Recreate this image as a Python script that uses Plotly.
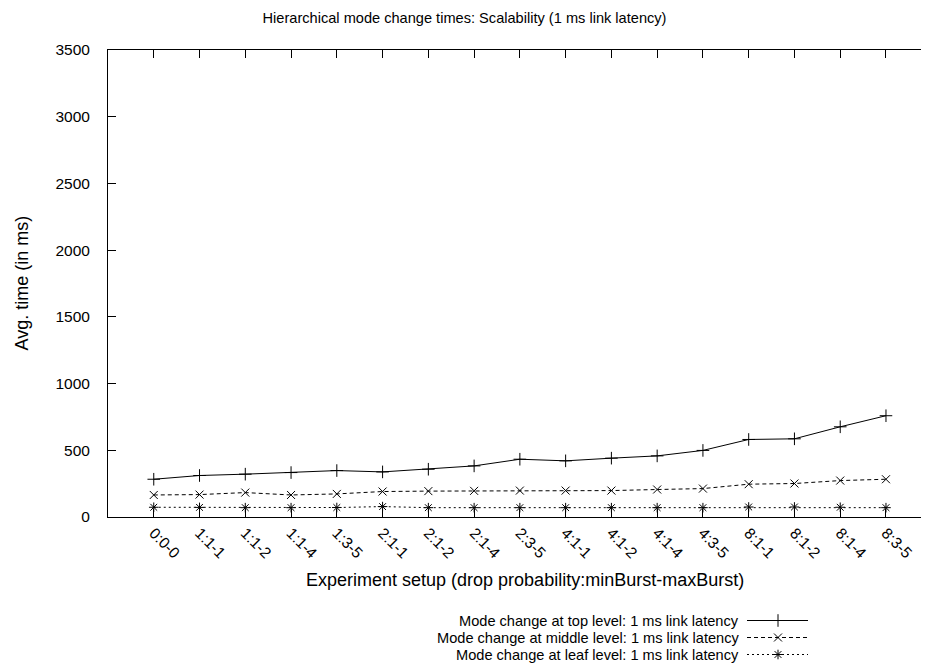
import plotly.graph_objects as go

categories = ["0:0-0", "1:1-1", "1:1-2", "1:1-4", "1:3-5", "2:1-1", "2:1-2", "2:1-4",
              "2:3-5", "4:1-1", "4:1-2", "4:1-4", "4:3-5", "8:1-1", "8:1-2", "8:1-4", "8:3-5"]
top_level = [283, 311, 321, 333, 348, 338, 358, 383, 433, 421, 441, 458, 499, 581, 586, 676, 759]
middle_level = [165, 168, 183, 165, 173, 191, 194, 196, 198, 198, 198, 206, 213, 246, 251, 273, 283]
leaf_level = [73, 72, 70, 70, 71, 78, 70, 70, 70, 70, 70, 70, 70, 75, 75, 73, 70]
series_names = ["Mode change at top level: 1 ms link latency",
                "Mode change at middle level: 1 ms link latency",
                "Mode change at leaf level: 1 ms link latency"]
y_ticks = [0, 500, 1000, 1500, 2000, 2500, 3000, 3500]

# page body has an 8px margin; the figure is sized to fill the rest of the window
O = 8
W, H = 929 - O, 667 - O
L, T, R, B = 108 - O, 50 - O, 0, 0
plot_bottom = 517 - O
paper_h = H - T - B
paper_w = W - L - R
main_lo = (H - B - plot_bottom) / paper_h

FONT = "Liberation Sans, Arial, Helvetica, sans-serif"
FS = 14.6       # title and legend
FS_TICK = 15.5  # tick labels
FS_AXT = 18     # axis titles
styles = [
    dict(dash="solid", symbol="cross-thin", size=9),
    dict(dash="4px,3px", symbol="x-thin", size=8),
    dict(dash="2px,3px", symbol="asterisk-open", size=8),
]
series = [top_level, middle_level, leaf_level]

fig = go.Figure()
xidx = list(range(len(categories)))
for vals, st, name in zip(series, styles, series_names):
    fig.add_trace(go.Scatter(
        x=xidx, y=vals, mode="lines+markers", name=name,
        line=dict(color="black", width=1, dash=st["dash"]),
        marker=dict(symbol=st["symbol"], size=st["size"], color="black",
                    line=dict(color="black", width=1)),
        showlegend=False, cliponaxis=False,
    ))

# legend samples drawn in a pixel-unit overlay axis below the plot
leg_rows = [620.5 - O, 637.5 - O, 654.5 - O]
for st, yy in zip(styles, leg_rows):
    fig.add_trace(go.Scatter(
        x=[747 - O, 808 - O], y=[yy, yy], mode="lines", xaxis="x2", yaxis="y2",
        line=dict(color="black", width=1, dash=st["dash"]), showlegend=False,
        hoverinfo="skip"))
    fig.add_trace(go.Scatter(
        x=[778 - O], y=[yy], mode="markers", xaxis="x2", yaxis="y2",
        marker=dict(symbol=st["symbol"], size=st["size"], color="black",
                    line=dict(color="black", width=1)),
        showlegend=False, hoverinfo="skip", cliponaxis=False))

annotations = []
for name, yy in zip(series_names, leg_rows):
    annotations.append(dict(text=name, x=741 - O, y=yy, xref="x2", yref="y2",
                            xanchor="right", yanchor="middle", showarrow=False,
                            font=dict(family=FONT, size=FS, color="black")))

annotations.append(dict(text="Avg. time (in ms)", x=(21 - O - L) / paper_w,
                        y=(H - B - (283.5 - O)) / paper_h, xref="paper", yref="paper",
                        textangle=-90, xanchor="center", yanchor="middle",
                        showarrow=False, font=dict(family=FONT, size=FS_AXT, color="black")))
annotations.append(dict(text="Experiment setup (drop probability:minBurst-maxBurst)",
                        x=(525 - O - L) / paper_w, y=(H - B - (580 - O)) / paper_h,
                        xref="paper", yref="paper", xanchor="center", yanchor="middle",
                        showarrow=False, font=dict(family=FONT, size=FS_AXT, color="black")))

fig.update_layout(
    width=W, height=H,
    margin=dict(l=L, r=R, t=T, b=B, pad=0),
    paper_bgcolor="white", plot_bgcolor="white",
    font=dict(family=FONT, size=FS, color="black"),
    title=dict(text="Hierarchical mode change times: Scalability (1 ms link latency)",
               x=(464.5 - O) / W, xref="container", xanchor="center",
               y=1 - (18 - O) / H, yref="container", yanchor="middle",
               font=dict(family=FONT, size=FS, color="black")),
    xaxis=dict(domain=[0, 1], range=[-1, 16.94], tickmode="array", tickvals=xidx,
               ticktext=categories, tickangle=45, ticks="inside", ticklen=8,
               tickcolor="black", showline=True, linecolor="black", linewidth=1,
               mirror="ticks", showgrid=False, zeroline=False, automargin=False,
               tickfont=dict(family=FONT, size=FS_TICK, color="black")),
    yaxis=dict(domain=[main_lo, 1], range=[0, 3500], tickmode="array", tickvals=y_ticks,
               ticks="inside", ticklen=8, tickcolor="black", showline=True,
               linecolor="black", linewidth=1, mirror="ticks", showgrid=False,
               zeroline=False, automargin=False, ticklabelstandoff=14,
               tickfont=dict(family=FONT, size=FS_TICK, color="black")),
    xaxis2=dict(domain=[0, 1], range=[L, W - R], visible=False, fixedrange=True),
    yaxis2=dict(domain=[0, main_lo], range=[H - B, plot_bottom], visible=False,
                fixedrange=True),
    annotations=annotations,
)

fig.write_html("out.html")
